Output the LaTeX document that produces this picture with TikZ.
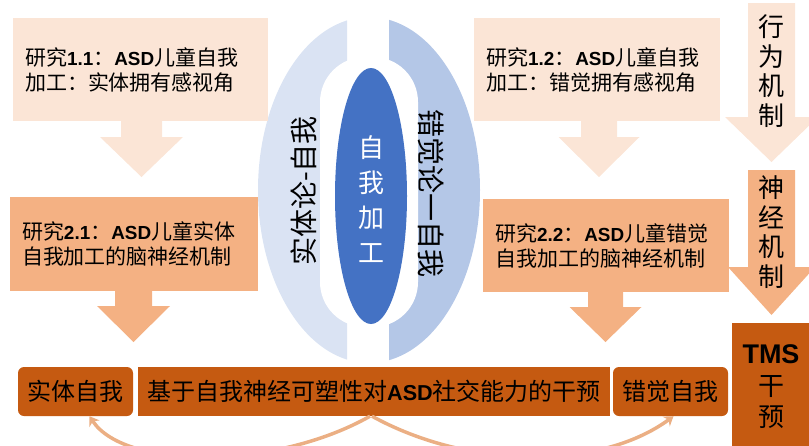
\documentclass[tikz,border=0pt]{standalone}
\usepackage{fontspec}
\setmainfont{Noto Sans CJK SC}
\newfontfamily\lat{Liberation Sans}[Scale=0.9]
\usetikzlibrary{arrows.meta}
\definecolor{peachL}{HTML}{FBE5D6}
\definecolor{peachM}{HTML}{F4B183}
\definecolor{rust}{HTML}{C55A11}
\definecolor{blueL}{HTML}{DAE3F3}
\definecolor{blueM}{HTML}{B4C7E7}
\definecolor{blueD}{HTML}{4472C4}
\definecolor{curveC}{HTML}{EBAF84}
\newcommand\LB[1]{{\lat\bfseries #1}}
\newcommand\blockdown[7]{%
  \fill[#7] ({#1-#5},#2) -- ({#1+#5},#2) -- ({#1+#5},#3) -- ({#1+#6},#3) -- (#1,#4) -- ({#1-#6},#3) -- ({#1-#5},#3) -- cycle;}
\tikzset{
  studybox/.style={inner xsep=12pt, inner ysep=0pt, align=left, anchor=center,
    font=\fontsize{21}{25}\selectfont, minimum width=246pt},
  lightbox/.style={studybox, fill=peachL},
  midbox/.style={studybox, fill=peachM},
  selfbox/.style={fill=rust, rounded corners=6pt, minimum width=115pt, minimum height=49pt,
    inner sep=0pt, font=\fontsize{24}{24}\selectfont},
  vlabel/.style={align=center, font=\fontsize{26}{29.5}\selectfont, inner sep=0pt},
  curvearrow/.style={draw=curveC, line width=3.5pt, -{Stealth[length=9pt,width=12pt]}},
}
\begin{document}
\begin{tikzpicture}[x=1pt,y=-1pt]
\useasboundingbox (0,0) rectangle (809,445);
\begin{scope}
\clip (0,0) rectangle (809,445);
% central ellipse structure
\begin{scope}
  \clip (0,0) rectangle (347,445);
  \fill[blueL] (369,190) ellipse [x radius=111, y radius=173];
\end{scope}
\begin{scope}
  \clip (389,0) rectangle (809,445);
  \fill[blueM] (369,190) ellipse [x radius=111, y radius=173];
\end{scope}
\fill[white, rounded corners=45pt] (320,57) rectangle (418,327);
\fill[blueD] (371,196) ellipse [x radius=36, y radius=128];
\node[rotate=90, font=\fontsize{28}{28}\selectfont, inner sep=0pt] (lsub) at (304,191) {实体论-自我};
\node[rotate=-90, font=\fontsize{28}{28}\selectfont, inner sep=0pt] (lill) at (431,193) {错觉论一自我};
\node[vlabel, text=white, font=\fontsize{26}{35}\selectfont] (core) at (371,199) {自\\我\\加\\工};

% study boxes
\node[lightbox, text width=231pt, minimum height=103pt] (b11) at (140.5,69.5)
  {研究\LB{1.1}：\LB{ASD}儿童自我\\加工：实体拥有感视角};
\node[lightbox, text width=222pt, minimum height=103pt] (b12) at (597,69.5)
  {研究\LB{1.2}：\LB{ASD}儿童自我\\加工：错觉拥有感视角};
\node[midbox, text width=224pt, minimum height=94pt] (b21) at (134,244)
  {研究\LB{2.1}：\LB{ASD}儿童实体\\自我加工的脑神经机制};
\node[midbox, text width=221pt, minimum height=93pt] (b22) at (605.5,245.5)
  {研究\LB{2.2}：\LB{ASD}儿童错觉\\自我加工的脑神经机制};

% block arrows
\blockdown{141.5}{120}{137}{177}{20.5}{41.5}{peachL}
\blockdown{599}{120}{137}{177}{18}{40.5}{peachL}
\blockdown{133.5}{290}{306}{342}{18.5}{36.5}{peachM}
\blockdown{605.5}{291}{307}{342}{17.5}{36}{peachM}
\blockdown{771.5}{3}{117}{162}{23.5}{46.5}{peachL}
\blockdown{771.5}{170}{267}{315}{23.5}{43.5}{peachM}
\node[vlabel] (beh) at (771,71) {行\\为\\机\\制};
\node[vlabel] (neu) at (771,232) {神\\经\\机\\制};

% TMS box
\fill[rust] (732,323) rectangle (815,450);
\node[align=center, inner sep=0pt, font=\fontsize{26}{31.5}\selectfont] (tms) at (771,387)
  {{\lat\bfseries\fontsize{30}{30}\selectfont TMS}\\干\\预};

% bottom row
\node[selfbox] (selfL) at (75.5,391.5) {实体自我};
\node[fill=rust, minimum width=472pt, minimum height=49pt, inner sep=0pt,
  font=\fontsize{24}{24}\selectfont] (mid) at (374,391.5) {基于自我神经可塑性对\LB{ASD}社交能力的干预};
\node[selfbox] (selfR) at (670.5,391.5) {错觉自我};

% curved arrows
\draw[curvearrow] ([xshift=-4pt]mid.south) .. controls (275,470) and (125,470) .. ([xshift=14pt]selfL.south);
\draw[curvearrow] ([xshift=-2pt]mid.south) .. controls (470,470) and (600,470) .. ([xshift=3pt]selfR.south);
\end{scope}
\end{tikzpicture}
\end{document}
